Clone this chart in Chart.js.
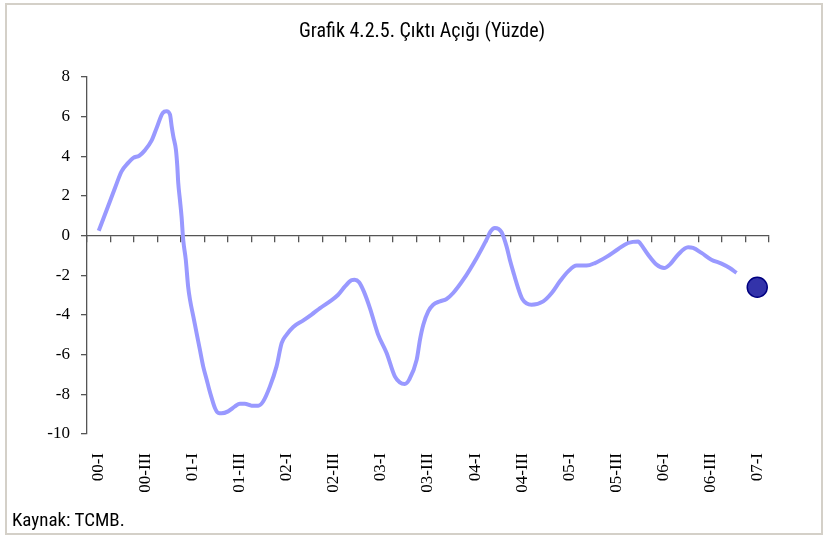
<!DOCTYPE html>
<html>
<head>
<meta charset="utf-8">
<script src="https://cdn.jsdelivr.net/npm/chart.js@4.4.1/dist/chart.umd.min.js"></script>
<style>
html,body{margin:0;padding:0;background:#fff;}
#wrap{position:relative;width:826px;height:538px;overflow:hidden;background:#fff;}
#frame{position:absolute;left:5px;top:3px;width:818px;height:532px;box-sizing:border-box;border:2px solid #d4d0c8;}
#title{position:absolute;left:0;top:18px;width:844px;text-align:center;font-family:Roboto,'Liberation Sans',sans-serif;font-stretch:condensed;font-size:20px;color:#000;white-space:nowrap;}
#source{position:absolute;left:12px;top:508px;font-family:Roboto,'Liberation Sans',sans-serif;font-stretch:condensed;font-size:19px;color:#000;white-space:nowrap;}
canvas{position:absolute;left:0;top:0;}
</style>
</head>
<body>
<div id="wrap">
  <div id="frame"></div>
  <canvas id="c" width="826" height="538"></canvas>
  <div id="title">Grafik 4.2.5. Çıktı Açığı (Yüzde)</div>
  <div id="source">Kaynak: TCMB.</div>
</div>
<script>
// Quarter categories (00-I ... 07-I)
const quarters = [
  '00-I','00-II','00-III','00-IV',
  '01-I','01-II','01-III','01-IV',
  '02-I','02-II','02-III','02-IV',
  '03-I','03-II','03-III','03-IV',
  '04-I','04-II','04-III','04-IV',
  '05-I','05-II','05-III','05-IV',
  '06-I','06-II','06-III','06-IV',
  '07-I'
];

// Output gap series: time in quarters since 00-I, value in percent
const gapTime = [
  0.00, 0.34, 0.69, 0.97, 1.25, 1.47, 1.72, 1.96, 2.25, 2.46, 2.72, 2.88,
  3.03, 3.10, 3.17, 3.28, 3.34, 3.38, 3.45, 3.52, 3.59, 3.70, 3.80, 3.88,
  4.02, 4.16, 4.30, 4.44, 4.59, 4.70, 4.80, 4.94, 5.08, 5.22, 5.50, 5.79,
  6.00, 6.21, 6.50, 6.78, 6.99, 7.28, 7.56, 7.78, 7.99, 8.27, 8.70, 9.05,
  9.41, 9.83, 10.18, 10.47, 10.74, 10.88, 11.07, 11.27, 11.53, 11.88, 12.24, 12.59,
  12.80, 13.01, 13.20, 13.52, 13.66, 13.80, 14.01, 14.22, 14.51, 14.79, 15.07, 15.50,
  16.07, 16.49, 16.66, 16.84, 17.13, 17.34, 17.48, 17.62, 17.81, 18.01, 18.40, 18.90,
  19.26, 19.61, 19.96, 20.32, 20.74, 21.10, 21.59, 22.09, 22.51, 22.94, 23.01, 23.36,
  23.72, 24.04, 24.28, 24.63, 25.06, 25.27, 25.63, 26.05, 26.48, 26.83, 27.12
];
const gapValue = [
  0.25, 1.31, 2.40, 3.24, 3.67, 3.92, 4.03, 4.30, 4.80, 5.43, 6.19, 6.27,
  6.10, 5.51, 5.01, 4.34, 3.50, 2.66, 1.82, 0.97, -0.20, -1.21, -2.56, -3.23,
  -4.07, -4.91, -5.75, -6.59, -7.26, -7.77, -8.18, -8.69, -8.94, -8.96, -8.86, -8.61,
  -8.47, -8.47, -8.57, -8.57, -8.36, -7.60, -6.59, -5.41, -4.99, -4.60, -4.27, -3.98,
  -3.65, -3.31, -2.98, -2.56, -2.25, -2.22, -2.35, -2.81, -3.65, -4.99, -5.92, -7.10,
  -7.40, -7.48, -7.26, -6.25, -5.24, -4.49, -3.82, -3.48, -3.31, -3.19, -2.89, -2.22,
  -1.12, -0.20, 0.22, 0.39, 0.17, -0.54, -1.21, -1.80, -2.56, -3.19, -3.48, -3.31,
  -2.89, -2.30, -1.80, -1.51, -1.51, -1.38, -1.07, -0.67, -0.37, -0.29, -0.37, -0.96,
  -1.46, -1.63, -1.46, -0.96, -0.59, -0.62, -0.87, -1.21, -1.41, -1.63, -1.88
];

// Single forecast point
const forecastLabel = '07-I';
const forecastValue = -2.6;

// Value axis range
const yMin = -10, yMax = 8, yStep = 2;

const serif = "'Liberation Serif','Times New Roman',serif";

new Chart(document.getElementById('c').getContext('2d'), {
  type: 'line',
  data: {
    labels: quarters,
    datasets: [
      {
        data: gapTime.map((t, i) => ({ x: t, y: gapValue[i] })),
        xAxisID: 'xt', yAxisID: 'y',
        borderColor: '#9999ff', borderWidth: 4,
        pointRadius: 0, fill: false,
        cubicInterpolationMode: 'monotone',
        order: 2
      },
      {
        data: [{ x: forecastLabel, y: forecastValue }],
        xAxisID: 'x', yAxisID: 'y',
        showLine: false,
        pointRadius: 10,
        backgroundColor: '#3333aa', borderColor: '#000080', borderWidth: 1.5,
        order: 1
      }
    ]
  },
  options: {
    responsive: false,
    animation: false,
    events: [],
    layout: { padding: { left: 0, top: 77, right: 57, bottom: 0 } },
    plugins: { legend: { display: false }, tooltip: { enabled: false }, title: { display: false } },
    scales: {
      x: {
        type: 'category', position: 'bottom', offset: true,
        grid: { display: false, drawTicks: false },
        border: { display: false },
        ticks: {
          autoSkip: false, minRotation: 90, maxRotation: 90, padding: 19,
          color: '#000', font: { family: serif, size: 17 },
          callback: (v, i) => (i % 2 === 0 ? quarters[i] : '')
        },
        afterFit: (s) => { s.height = 104; }
      },
      xzero: {
        type: 'category', axis: 'x', position: { y: 0 }, offset: true,
        grid: { display: true, drawOnChartArea: false, drawTicks: true, tickLength: 6, offset: true, color: '#555', lineWidth: 1.3 },
        border: { display: true, color: '#555', width: 1.3 },
        ticks: { display: false }
      },
      xt: {
        type: 'linear', axis: 'x', display: false,
        min: -0.5, max: quarters.length - 0.5
      },
      y: {
        type: 'linear', position: 'left', min: yMin, max: yMax,
        ticks: { stepSize: yStep, padding: 11, color: '#000', font: { family: serif, size: 17 } },
        grid: { drawOnChartArea: false, tickLength: 6, color: '#555', lineWidth: 1.3 },
        border: { color: '#555', width: 1.3 },
        afterFit: (s) => { s.width = 87; }
      }
    }
  }
});
</script>
</body>
</html>
